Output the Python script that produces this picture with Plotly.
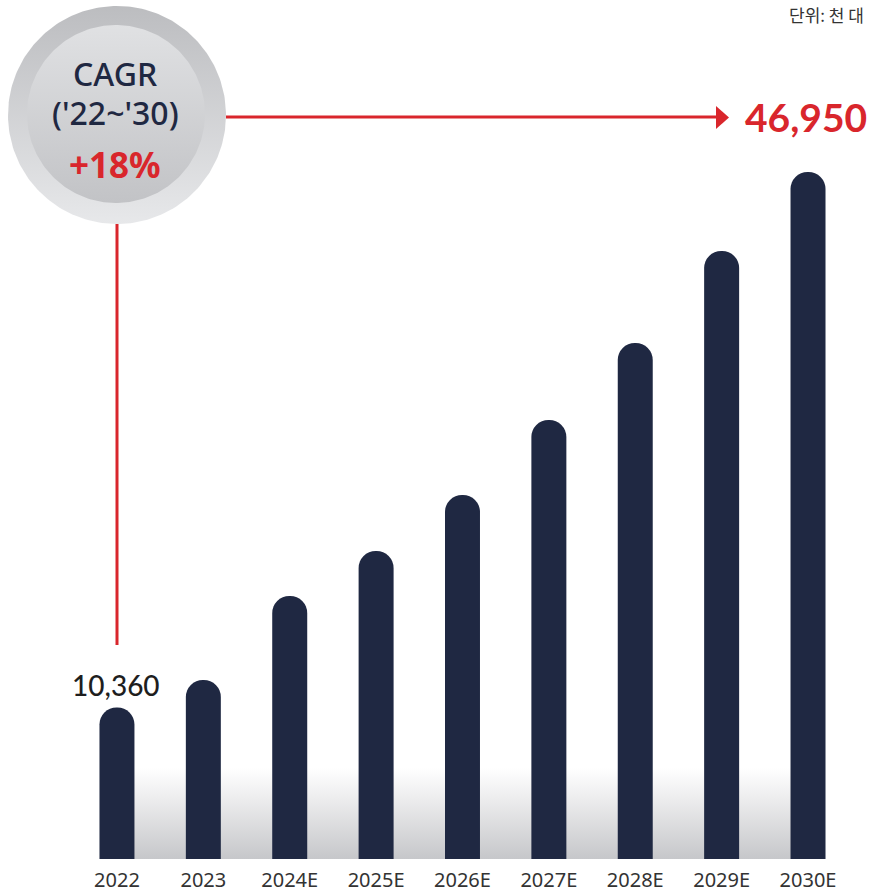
import numpy as np
import plotly.graph_objects as go

# ---------------- data ----------------
categories = ["2022", "2023", "2024E", "2025E", "2026E", "2027E", "2028E", "2029E", "2030E"]
values = [10360, 12230, 17970, 21050, 24880, 30000, 35260, 41550, 46950]
first_label = "10,360"
last_label = "46,950"
unit_text = "단위: 천 대"
cagr_title = "CAGR"
cagr_period = "('22~'30)"
cagr_value = "+18%"

# ---------------- geometry / style ----------------
W, H = 869, 892
B = 33
PH = H - B
NAVY = "#1f2842"
RED = "#d9262c"

X_RANGE = [-1.354, 8.706]
Y_MAX = values[-1] * PH / 687.0


def cat_px(i):
    return (i - X_RANGE[0]) / (X_RANGE[1] - X_RANGE[0]) * W


def circle(cx, cy, r, n=240):
    t = np.linspace(0, 2 * np.pi, n)
    return cx + r * np.cos(t), cy + r * np.sin(t)


fig = go.Figure()

# floor gradient (pixel axes)
fx0, fx1 = cat_px(0), cat_px(len(categories) - 1)
fy0, fy1 = 768, PH
fig.add_trace(go.Scatter(
    x=[fx0, fx1, fx1, fx0, fx0], y=[fy0, fy0, fy1, fy1, fy0],
    mode="lines", line=dict(width=0), fill="toself",
    fillgradient=dict(type="vertical", start=fy0, stop=fy1,
                      colorscale=[[0, "#ffffff"], [0.35, "#ececed"], [1, "#c6c7ca"]]),
    hoverinfo="skip", showlegend=False, xaxis="x", yaxis="y"))

# badge circles
ox, oy = circle(117, 115, 109)
fig.add_trace(go.Scatter(
    x=ox, y=oy, mode="lines", line=dict(width=0), fill="toself",
    fillgradient=dict(type="vertical", start=6, stop=224,
                      colorscale=[[0, "#bcbdc0"], [1, "#e7e8ea"]]),
    hoverinfo="skip", showlegend=False, xaxis="x", yaxis="y"))
ix, iy = circle(116, 114, 89)
fig.add_trace(go.Scatter(
    x=ix, y=iy, mode="lines", line=dict(width=0), fill="toself",
    fillgradient=dict(type="vertical", start=25, stop=203,
                      colorscale=[[0, "#e0e1e3"], [1, "#c2c3c6"]]),
    hoverinfo="skip", showlegend=False, xaxis="x", yaxis="y"))

# bars (overlay axes)
fig.add_trace(go.Bar(
    x=list(range(len(categories))), y=values, width=0.405,
    marker=dict(color=NAVY, cornerradius="50%", line=dict(width=0)),
    hoverinfo="skip", showlegend=False, xaxis="x2", yaxis="y2"))

# lines + arrow
shapes = [
    dict(type="line", xref="x", yref="y", x0=117, x1=117, y0=224, y1=645,
         line=dict(color=RED, width=3)),
    dict(type="line", xref="x", yref="y", x0=226, x1=717, y0=117, y1=117,
         line=dict(color=RED, width=3)),
    dict(type="path", xref="x", yref="y", path="M 716 106 L 729 117.5 L 716 129 Z",
         fillcolor=RED, line=dict(width=0)),
]

annotations = [
    dict(text=unit_text, x=866, y=14, xanchor="right", yanchor="middle",
         font=dict(family="Noto Sans CJK KR", size=17, color="#333333")),
    dict(text=first_label, x=116, y=685, xanchor="center", yanchor="middle",
         font=dict(family="Lato", size=28, color="#1e1e1e", weight=500)),
    dict(text="<b>" + last_label + "</b>", x=806, y=117, xanchor="center", yanchor="middle",
         font=dict(family="Lato", size=39, color=RED)),
    dict(text=cagr_title, x=115, y=73, xanchor="center", yanchor="middle",
         font=dict(family="Noto Sans", size=32, color=NAVY, weight=500)),
    dict(text=cagr_period, x=115, y=112, xanchor="center", yanchor="middle",
         font=dict(family="Noto Sans", size=32, color=NAVY, weight=500)),
    dict(text="<b>" + cagr_value + "</b>", x=115, y=164, xanchor="center", yanchor="middle",
         font=dict(family="Noto Sans", size=35, color=RED)),
]
for a in annotations:
    a.update(xref="x", yref="y", showarrow=False)

fig.update_layout(
    width=W, height=H,
    margin=dict(l=0, r=0, t=0, b=B, autoexpand=False),
    paper_bgcolor="white", plot_bgcolor="white",
    showlegend=False,
    xaxis=dict(range=[0, W], visible=False, domain=[0, 1], fixedrange=True),
    yaxis=dict(range=[PH, 0], visible=False, domain=[0, 1], fixedrange=True),
    xaxis2=dict(overlaying="x", anchor="y2", range=X_RANGE, domain=[0, 1],
                tickmode="array", tickvals=list(range(len(categories))), ticktext=categories,
                showgrid=False, zeroline=False, showline=False, ticks="",
                ticklabelstandoff=7,
                tickfont=dict(family="Noto Sans", size=20, color="#333333"),
                automargin=False, fixedrange=True),
    yaxis2=dict(overlaying="y", anchor="x2", range=[0, Y_MAX], visible=False,
                domain=[0, 1], fixedrange=True),
    shapes=shapes,
    annotations=annotations,
)

fig.write_html(
    "out.html",
    config={"displayModeBar": False},
    post_script="document.body.style.margin='0';document.body.style.overflow='hidden';",
)
